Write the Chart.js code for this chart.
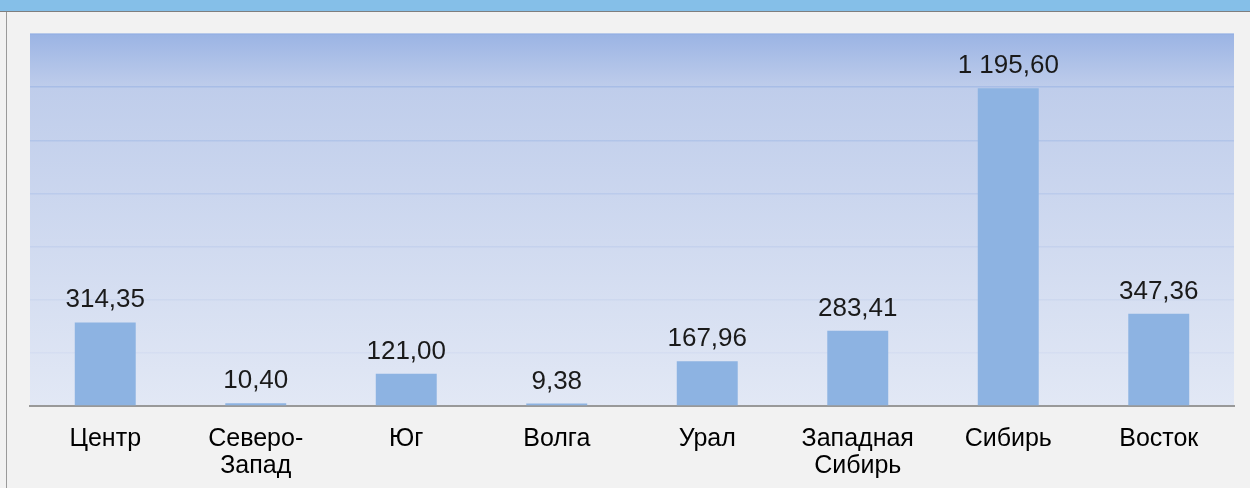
<!DOCTYPE html>
<html>
<head>
<meta charset="utf-8">
<script src="https://cdn.jsdelivr.net/npm/chart.js@4"></script>
<style>
  html, body { margin: 0; padding: 0; }
  body { width: 1250px; height: 488px; background: #f2f2f2; position: relative; overflow: hidden; }
  .band { position: absolute; left: 0; top: 0; width: 1250px; height: 11px; background: #85bfe8; border-bottom: 1px solid #7f7f7f; }
  .edge { position: absolute; left: 6px; top: 12px; width: 1px; height: 476px; background: #9a9a9a; }
  .wrap { position: absolute; left: 0; top: 0; width: 1250px; height: 488px; }
</style>
</head>
<body>
<div class="band"></div>
<div class="edge"></div>
<div class="wrap"><canvas id="chart"></canvas></div>
<script>
const regions = ['Центр', ['Северо-', 'Запад'], 'Юг', 'Волга', 'Урал', ['Западная', 'Сибирь'], 'Сибирь', 'Восток'];
const values = [314.35, 10.40, 121.00, 9.38, 167.96, 283.41, 1195.60, 347.36];
const yMax = 1400;
const yStep = 200;

function fmt(v) {
    const parts = v.toFixed(2).split('.');
    return parts[0].replace(/\B(?=(\d{3})+(?!\d))/g, ' ') + ',' + parts[1];
}

// gradient fill behind the plot area
const plotBackground = {
    id: 'plotBackground',
    beforeDraw(chart) {
        const { ctx, chartArea: a } = chart;
        const g = ctx.createLinearGradient(0, a.top, 0, a.bottom);
        g.addColorStop(0, '#9bb4e4');
        g.addColorStop(0.145, '#bfcdeb');
        g.addColorStop(1, '#e2e8f5');
        ctx.save();
        ctx.fillStyle = g;
        ctx.fillRect(a.left, a.top, a.right - a.left, a.bottom - a.top);
        ctx.restore();
    }
};

// value labels above the bars
const valueLabels = {
    id: 'valueLabels',
    afterDatasetsDraw(chart) {
        const { ctx } = chart;
        const meta = chart.getDatasetMeta(0);
        ctx.save();
        ctx.font = '26px "Liberation Sans", Arial, sans-serif';
        ctx.fillStyle = '#1a1a1a';
        ctx.textAlign = 'center';
        ctx.textBaseline = 'alphabetic';
        meta.data.forEach((bar, i) => {
            ctx.fillText(fmt(values[i]), bar.x, bar.y - 15);
        });
        ctx.restore();
    }
};

// grid lines fade out toward the bottom
function gridColor(context) {
    const v = context.tick ? context.tick.value : 0;
    const a = 0.08 + 0.5 * Math.pow(v / yMax, 2);
    return 'rgba(140,170,225,' + a.toFixed(3) + ')';
}

new Chart(document.getElementById('chart').getContext('2d'), {
    type: 'bar',
    data: {
        labels: regions,
        datasets: [{
            data: values,
            backgroundColor: '#8db3e2',
            borderWidth: 0,
            categoryPercentage: 1,
            barPercentage: 0.405
        }]
    },
    options: {
        responsive: true,
        maintainAspectRatio: false,
        animation: false,
        layout: { padding: { left: 30, right: 16, top: 34, bottom: 0 } },
        plugins: {
            legend: { display: false },
            tooltip: { enabled: false }
        },
        scales: {
            x: {
                grid: { display: false },
                border: { display: true, color: '#999999', width: 2 },
                ticks: {
                    color: '#000000',
                    padding: 12,
                    maxRotation: 0,
                    autoSkip: false,
                    font: { family: '"Liberation Sans", Arial, sans-serif', size: 25, lineHeight: 1.08 }
                },
                afterFit(scale) { scale.height = 82; }
            },
            y: {
                min: 0,
                max: yMax,
                ticks: { display: false, stepSize: yStep },
                grid: { color: gridColor, lineWidth: 1.5, drawTicks: false },
                border: { display: false }
            }
        }
    },
    plugins: [plotBackground, valueLabels]
});
</script>
</body>
</html>
